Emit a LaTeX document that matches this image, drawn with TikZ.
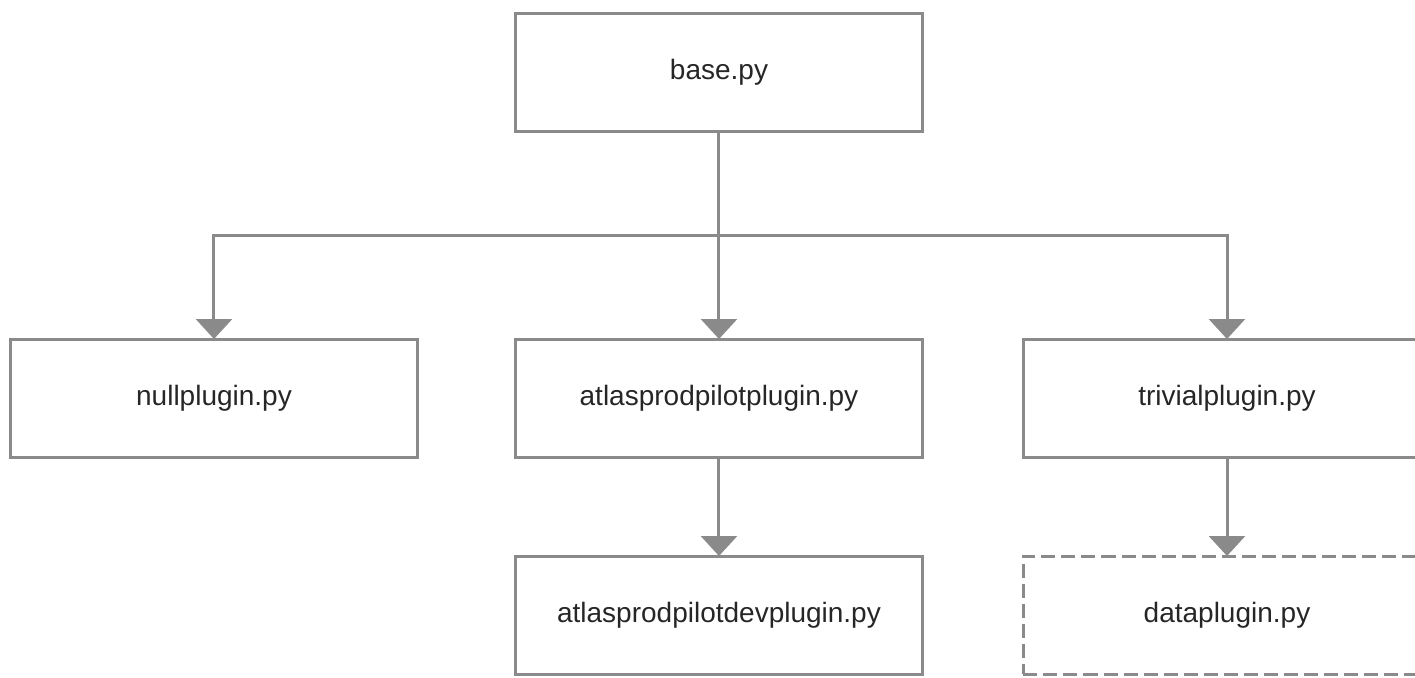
\documentclass[tikz,border=0pt]{standalone}
\usepackage{fontspec}
\setmainfont{Liberation Sans}
\usetikzlibrary{positioning,arrows.meta}

\begin{document}
\begin{tikzpicture}
                [box/.style={rectangle,draw=linegray,line width=1.5pt,outer sep=0pt,
                             minimum width=203.5pt,minimum height=59pt,
                             font=\fontsize{14}{16}\selectfont,text=black!85},
                dashbox/.style={box,dash pattern=on 7pt off 3pt},
                arr/.style={draw=linegray,line width=1.5pt,
                            -{Triangle[width=18pt,length=10pt]}},
                node distance=49.5pt]
                \definecolor{linegray}{RGB}{138,138,138}
                \useasboundingbox (-359.5pt,36pt) rectangle (348pt,-302.5pt);
                \node[box] (base) at (0,0) {base.py};
                \node[box,node distance=104pt] (atlas)[below=of base]{atlasprodpilotplugin.py};
                \node[box,node distance=49pt] (null)[left=of atlas]{nullplugin.py};
                \node[box,node distance=50.5pt] (trivial)[right=of atlas]{trivialplugin.py};
                \node[box] (dev)[below=of atlas]{atlasprodpilotdevplugin.py};
                \node[dashbox] (data)[below=of trivial]{dataplugin.py};
                % bus between base and the plugins
                \coordinate[below=52pt of base] (bus);
                \draw[draw=linegray,line width=1.5pt] (base) -- (bus);
                \draw[arr] (bus) -| (null);
                \draw[arr] (bus) -- (atlas);
                \draw[arr] (bus) -| (trivial);
                \draw[arr] (atlas) -- (dev);
                \draw[arr] (trivial) -- (data);
            \end{tikzpicture}
\end{document}
